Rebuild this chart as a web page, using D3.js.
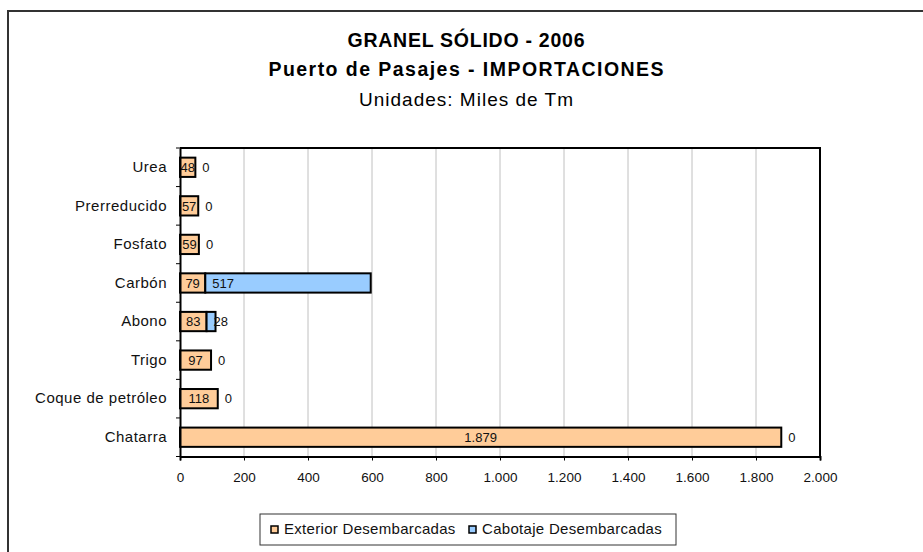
<!DOCTYPE html>
<html>
<head>
<meta charset="utf-8">
<script src="https://cdn.jsdelivr.net/npm/d3@7"></script>
<style>
  body { margin: 0; background: #fff; }
  svg { display: block; font-family: "Liberation Sans", Arial, sans-serif; }
</style>
</head>
<body>
<svg id="chart" width="923" height="552"></svg>
<script>
// Categories from top to bottom as shown
const categories = ["Urea", "Prerreducido", "Fosfato", "Carbón", "Abono", "Trigo", "Coque de petróleo", "Chatarra"];
const exterior = [48, 57, 59, 79, 83, 97, 118, 1879];
const cabotaje = [0, 0, 0, 517, 28, 0, 0, 0];
const seriesNames = ["Exterior Desembarcadas", "Cabotaje Desembarcadas"];
const seriesColors = ["#FFCC99", "#99CCFF"];
const xTicks = [0, 200, 400, 600, 800, 1000, 1200, 1400, 1600, 1800, 2000];
const titleLines = ["GRANEL SÓLIDO - 2006", "Puerto de Pasajes - IMPORTACIONES", "Unidades: Miles de Tm"];

const svg = d3.select("#chart");
const fmt = d3.formatLocale({ decimal: ",", thousands: ".", grouping: [3], currency: ["", "€"] }).format(",d");
const FONT = "Liberation Sans, Arial, sans-serif";

// Outer chart border
svg.append("rect")
  .attr("x", 8).attr("y", 11)
  .attr("width", 940).attr("height", 560)
  .attr("fill", "none")
  .attr("stroke", "#333")
  .attr("stroke-width", 2);

// Titles (Excel renders them with loose tracking, so stretch to measured widths)
const titleStyle = [
  { y: 47, size: 19.5, weight: "bold", len: 237 },
  { y: 76, size: 19.5, weight: "bold", len: 395 },
  { y: 106, size: 19, weight: "normal", len: 214 }
];
titleLines.forEach((t, i) => {
  const s = titleStyle[i];
  svg.append("text")
    .attr("x", 466 - s.len / 2).attr("y", s.y)
    .attr("font-size", s.size).attr("font-weight", s.weight)
    .attr("textLength", s.len).attr("lengthAdjust", "spacing")
    .attr("fill", "#000")
    .text(t);
});

const plot = { left: 180, top: 148, right: 820, bottom: 456.5 };

const x = d3.scaleLinear().domain([0, 2000]).range([plot.left, plot.right]);
const y = d3.scaleBand().domain(categories).range([plot.top, plot.bottom]).paddingInner(0.5).paddingOuter(0.25);

// Gridlines
svg.append("g").selectAll("line")
  .data(xTicks.slice(1, -1))
  .join("line")
  .attr("x1", d => x(d)).attr("x2", d => x(d))
  .attr("y1", plot.top).attr("y2", plot.bottom)
  .attr("stroke", "#c0c0c0").attr("stroke-width", 1);

// Plot area border (top & right)
svg.append("path")
  .attr("d", `M${plot.left},${plot.top}H${plot.right}V${plot.bottom}`)
  .attr("fill", "none").attr("stroke", "#000").attr("stroke-width", 2);

// Bars
const rows = categories.map((c, i) => ({ cat: c, ext: exterior[i], cab: cabotaje[i] }));
const barG = svg.append("g");

barG.selectAll("rect.ext")
  .data(rows).join("rect").attr("class", "ext")
  .attr("x", x(0)).attr("y", d => y(d.cat))
  .attr("width", d => x(d.ext) - x(0)).attr("height", y.bandwidth())
  .attr("fill", seriesColors[0]).attr("stroke", "#000").attr("stroke-width", 2);

barG.selectAll("rect.cab")
  .data(rows.filter(d => d.cab > 0)).join("rect").attr("class", "cab")
  .attr("x", d => x(d.ext)).attr("y", d => y(d.cat))
  .attr("width", d => x(d.ext + d.cab) - x(d.ext)).attr("height", y.bandwidth())
  .attr("fill", seriesColors[1]).attr("stroke", "#000").attr("stroke-width", 2);

// Labels
barG.selectAll("text.extl")
  .data(rows).join("text").attr("class", "extl")
  .attr("x", d => (x(0) + x(d.ext)) / 2)
  .attr("y", d => y(d.cat) + y.bandwidth() / 2)
  .attr("dy", "0.36em").attr("text-anchor", "middle")
  .attr("font-size", 13).attr("fill", "#111")
  .text(d => fmt(d.ext));

barG.selectAll("text.cabl")
  .data(rows).join("text").attr("class", "cabl")
  .attr("x", d => x(d.ext) + 7)
  .attr("y", d => y(d.cat) + y.bandwidth() / 2)
  .attr("dy", "0.36em").attr("text-anchor", "start")
  .attr("font-size", 13).attr("fill", "#111")
  .text(d => fmt(d.cab));

// X axis
const xAxis = svg.append("g")
  .attr("transform", `translate(0,${plot.bottom})`)
  .call(d3.axisBottom(x).tickValues(xTicks).tickSize(4).tickPadding(12).tickFormat(fmt));
xAxis.select(".domain").attr("stroke", "#000").attr("stroke-width", 2);
xAxis.selectAll(".tick line").attr("stroke", "#000");
xAxis.selectAll("text").attr("font-size", 13.5).attr("font-family", FONT).attr("fill", "#111");

// Y axis
const yAxis = svg.append("g")
  .attr("transform", `translate(${plot.left},0)`)
  .call(d3.axisLeft(y).tickSize(0).tickPadding(13));
yAxis.select(".domain").attr("stroke", "#000").attr("stroke-width", 2);
yAxis.selectAll("text").attr("font-size", 15).attr("letter-spacing", 0.5)
  .attr("font-family", FONT).attr("fill", "#111");

// Category tick marks at band boundaries
const bounds = d3.range(categories.length + 1).map(i => plot.top + i * (plot.bottom - plot.top) / categories.length);
svg.append("g").selectAll("line")
  .data(bounds)
  .join("line")
  .attr("x1", plot.left - 4).attr("x2", plot.left)
  .attr("y1", d => d).attr("y2", d => d)
  .attr("stroke", "#000");

// Legend
const lg = svg.append("g");
lg.append("rect").attr("x", 260).attr("y", 514).attr("width", 416).attr("height", 31)
  .attr("fill", "#fff").attr("stroke", "#333").attr("stroke-width", 1);
const legendX = [271, 469];
seriesNames.forEach((n, i) => {
  lg.append("rect").attr("x", legendX[i]).attr("y", 526).attr("width", 7).attr("height", 7)
    .attr("fill", seriesColors[i]).attr("stroke", "#000").attr("stroke-width", 1.5);
  lg.append("text").attr("x", legendX[i] + 13).attr("y", 534)
    .attr("font-size", 15).attr("letter-spacing", 0.3).attr("fill", "#111").text(n);
});
</script>
</body>
</html>
